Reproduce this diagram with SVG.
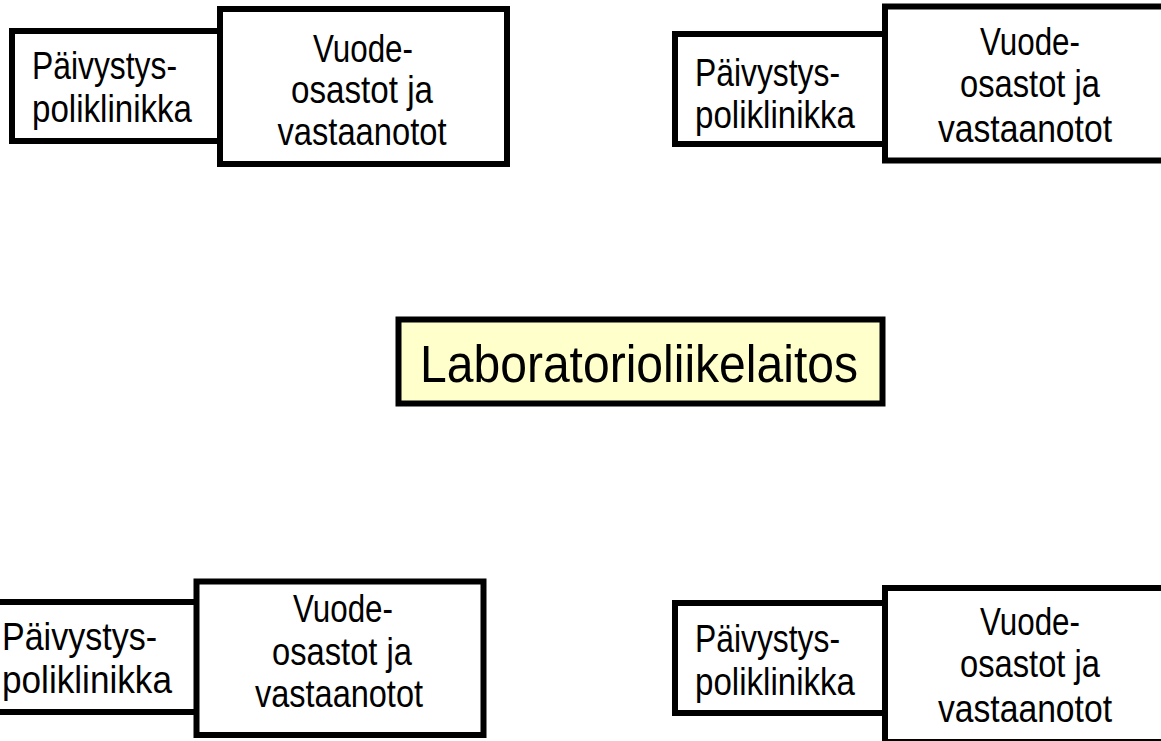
<svg xmlns="http://www.w3.org/2000/svg" width="1161" height="741" viewBox="0 0 1161 741">
<style>
.box{fill:#ffffff;stroke:#000000;stroke-width:6}
.core{fill:#ffffcc;stroke:#000000;stroke-width:6}
.t{font-family:"Liberation Sans",Arial,sans-serif;font-size:38px;fill:#000000}
.c{text-anchor:middle}
.big{font-family:"Liberation Sans",Arial,sans-serif;font-size:51px;fill:#000000}
</style>
<rect x="0" y="0" width="1161" height="741" fill="#ffffff"/>
<g id="connectors"></g>
<g id="tl-paivystys">
<rect class="box" x="12" y="31" width="214" height="110"/>
<text class="t" x="32" y="79" textLength="145" lengthAdjust="spacingAndGlyphs">Päivystys-</text>
<text class="t" x="32" y="122" textLength="160" lengthAdjust="spacingAndGlyphs">poliklinikka</text>
</g>
<g id="tl-vuode">
<rect class="box" x="220" y="9" width="287" height="155"/>
<text class="t c" x="363" y="62" textLength="100" lengthAdjust="spacingAndGlyphs">Vuode-</text>
<text class="t c" x="362" y="103" textLength="142" lengthAdjust="spacingAndGlyphs">osastot ja</text>
<text class="t c" x="362" y="144.5" textLength="169" lengthAdjust="spacingAndGlyphs">vastaanotot</text>
</g>
<g id="tr-paivystys">
<rect class="box" x="675" y="34" width="216" height="110"/>
<text class="t" x="695" y="86" textLength="145" lengthAdjust="spacingAndGlyphs">Päivystys-</text>
<text class="t" x="695" y="128" textLength="160" lengthAdjust="spacingAndGlyphs">poliklinikka</text>
</g>
<g id="tr-vuode">
<rect class="box" x="885" y="6.5" width="287" height="154"/>
<text class="t c" x="1030" y="55" textLength="100" lengthAdjust="spacingAndGlyphs">Vuode-</text>
<text class="t c" x="1030" y="97" textLength="140" lengthAdjust="spacingAndGlyphs">osastot ja</text>
<text class="t c" x="1025" y="141.5" textLength="174" lengthAdjust="spacingAndGlyphs">vastaanotot</text>
</g>
<g id="center">
<rect class="core" x="398.5" y="319.5" width="484" height="84"/>
<text class="big" x="420" y="381.5" textLength="438" lengthAdjust="spacingAndGlyphs">Laboratorioliikelaitos</text>
</g>
<g id="bl-paivystys">
<rect class="box" x="-19" y="602" width="220" height="110"/>
<text class="t" x="2" y="650" textLength="155" lengthAdjust="spacingAndGlyphs">Päivystys-</text>
<text class="t" x="2" y="693" textLength="170" lengthAdjust="spacingAndGlyphs">poliklinikka</text>
</g>
<g id="bl-vuode">
<rect class="box" x="196.5" y="581.5" width="287" height="153.5"/>
<text class="t c" x="343" y="621.5" textLength="100" lengthAdjust="spacingAndGlyphs">Vuode-</text>
<text class="t c" x="342" y="665" textLength="140" lengthAdjust="spacingAndGlyphs">osastot ja</text>
<text class="t c" x="339" y="706.5" textLength="168" lengthAdjust="spacingAndGlyphs">vastaanotot</text>
</g>
<g id="br-paivystys">
<rect class="box" x="675" y="603" width="216" height="110"/>
<text class="t" x="695" y="651.5" textLength="145" lengthAdjust="spacingAndGlyphs">Päivystys-</text>
<text class="t" x="695" y="695" textLength="160" lengthAdjust="spacingAndGlyphs">poliklinikka</text>
</g>
<g id="br-vuode">
<rect class="box" x="885" y="588" width="287" height="154"/>
<text class="t c" x="1030" y="635" textLength="100" lengthAdjust="spacingAndGlyphs">Vuode-</text>
<text class="t c" x="1030" y="676.5" textLength="140" lengthAdjust="spacingAndGlyphs">osastot ja</text>
<text class="t c" x="1025" y="721.5" textLength="174" lengthAdjust="spacingAndGlyphs">vastaanotot</text>
</g>
</svg>
